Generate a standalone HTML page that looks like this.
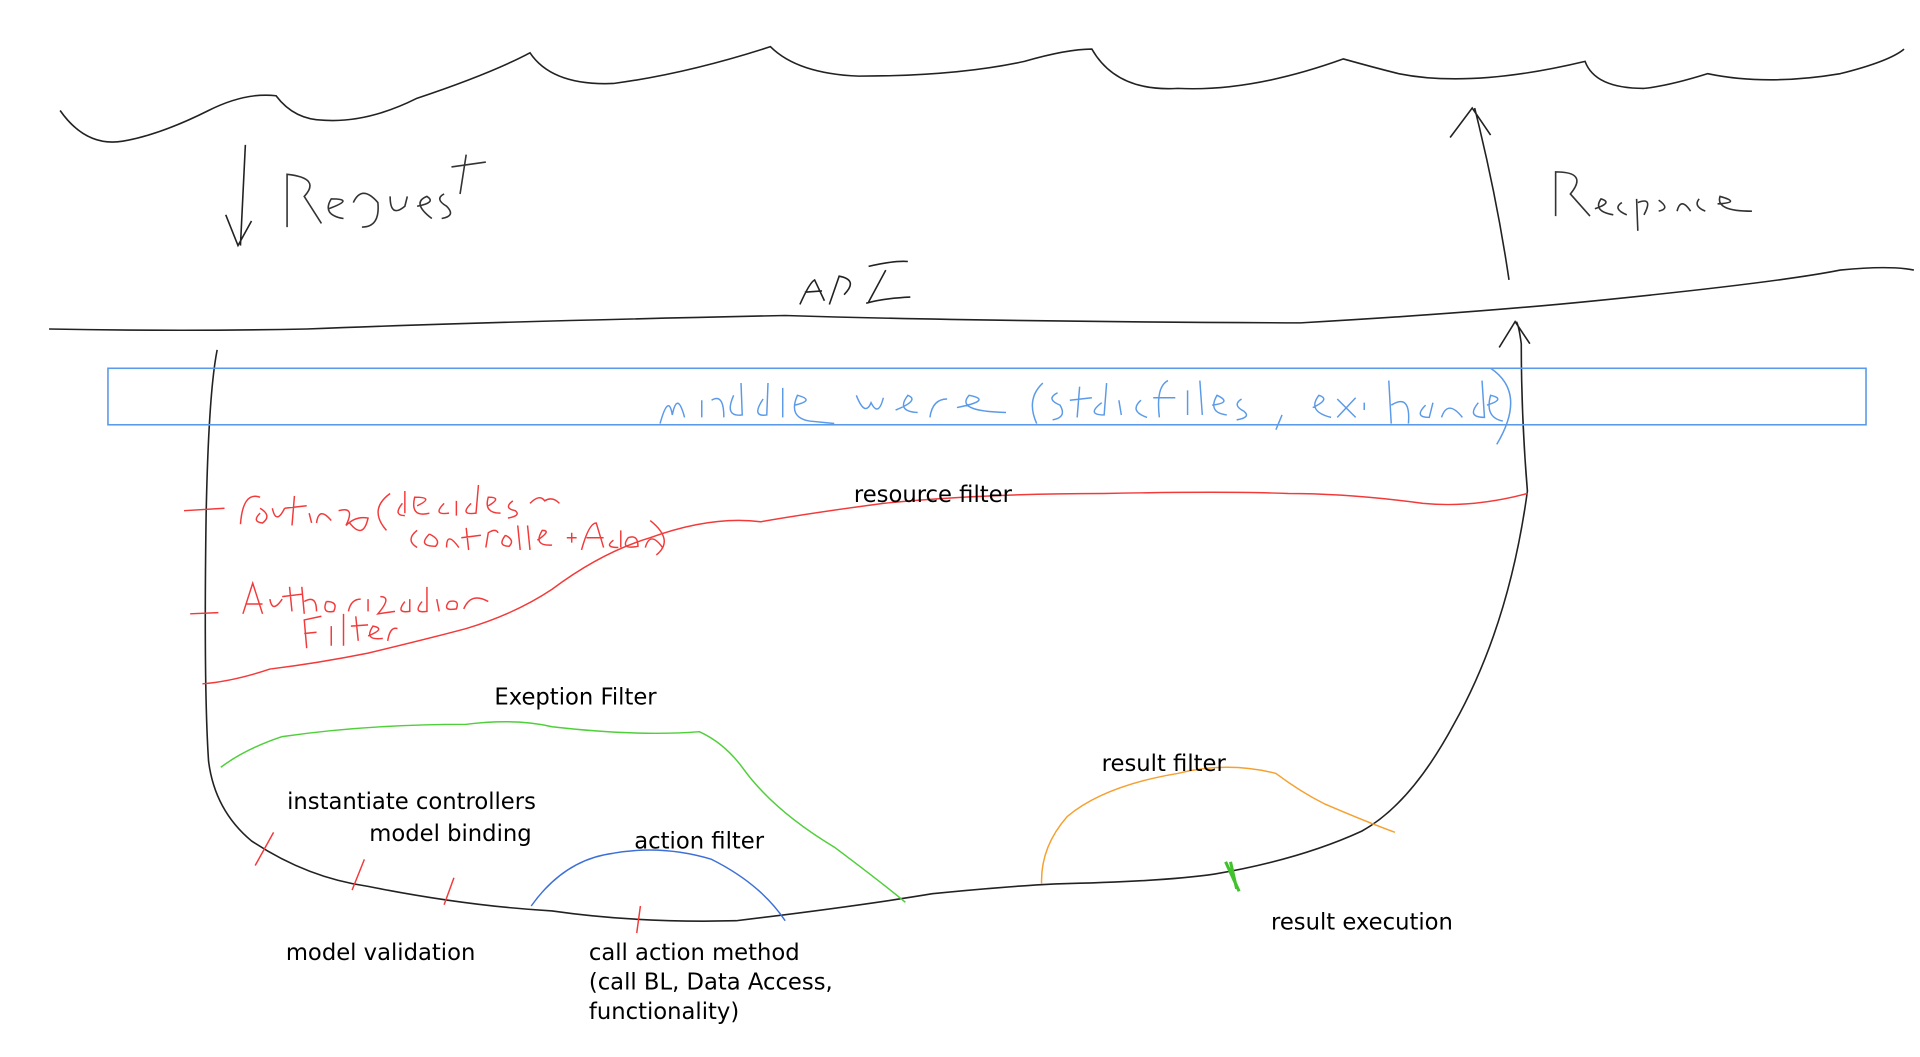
<!DOCTYPE html>
<html><head><style>
html,body{margin:0;padding:0;background:#fff;width:1920px;height:1057px;overflow:hidden}
svg{display:block}
text{font-family:"DejaVu Sans","Liberation Sans",sans-serif}
</style></head><body>
<svg width="1920" height="1057" viewBox="0 0 1565 861" preserveAspectRatio="none" xmlns="http://www.w3.org/2000/svg">
<g fill="none" stroke="#222" stroke-width="1.3">
<path d="M49 90 Q70 120 100 115 Q130 110 170 90 Q200 75 225 78 Q240 98 265 98 Q300 100 340 80 Q400 60 432 43 Q450 70 500 68 Q560 60 628 38 Q650 60 700 62 Q780 62 835 50 Q870 40 890 40 Q910 75 960 72 Q1020 75 1095 48 Q1120 55 1140 60 Q1200 72 1292 50 Q1300 72 1340 72 Q1360 70 1392 60 Q1440 70 1500 60 Q1540 50 1552 40"/>
<path d="M40 268 Q150 270 250 268 Q400 262 640 257 Q800 262 1060 263 Q1200 255 1300 245 Q1450 230 1500 220 Q1540 216 1560 220"/>
<path d="M200 118 L196 200 M184 175 L194 200 L205 180"/>
<path d="M1230 228 Q1220 160 1202 88 M1182 112 L1200 88 L1215 110"/>
<path d="M177 285 Q170 320 168 420 Q166 560 170 620 Q175 660 205 685 Q250 715 300 722 Q380 738 450 742 Q520 752 600 750 Q700 738 760 728 Q820 722 860 720 Q950 718 990 712 Q1060 700 1110 677 Q1150 655 1185 590 Q1230 510 1245 400 Q1240 340 1240 280 Q1238 265 1236 262 M1222 283 L1235 262 L1247 280"/>
<path d="M652 248 Q660 230 664 228 L672 245 M656 238 L670 237 M676 248 L684 225 Q700 228 688 240 M708 246 L722 220 M708 217 Q730 212 740 213 M706 247 Q720 243 742 242"/>
</g>
<g fill="none" stroke="#333" stroke-width="1.3">
<path d="M234 185 L234 142 Q262 145 248 160 L262 182 M268 170 Q290 162 270 162 Q262 175 280 178 M288 165 Q295 150 308 165 Q310 185 295 185 M318 160 Q318 178 330 168 L332 160 M340 168 Q356 165 348 160 Q335 165 352 178 M362 158 Q354 162 364 168 Q372 176 360 178 M380 126 L375 158 M368 136 L396 132"/>
<path d="M1268 176 L1268 140 Q1295 140 1280 158 L1296 176 M1300 170 Q1315 165 1305 162 Q1298 172 1315 175 M1322 165 Q1314 170 1326 175 M1334 162 L1335 188 M1335 165 Q1348 160 1340 175 M1352 163 Q1362 170 1352 172 M1367 172 Q1370 160 1378 172 M1385 162 Q1380 168 1390 172 M1400 166 Q1420 165 1402 160 Q1398 172 1428 172"/>
</g>
<rect x="88" y="300" width="1433" height="46" fill="none" stroke="#5b9ae8" stroke-width="1.3"/>
<g fill="none" stroke="#5b9ae8" stroke-width="1.2">
<path d="M538 345 Q545 320 548 338 Q552 318 558 340 M572 326 L572 340 M580 326 Q590 320 590 340 M598 322 Q590 340 605 338 L604 312 M622 325 Q612 340 625 338 L626 312 M638 316 L638 340 M648 330 Q665 326 650 322 Q642 340 660 343 L680 345 M698 322 Q705 340 710 328 Q716 340 720 324 M730 334 Q750 326 740 322 Q730 335 748 336 M758 340 Q760 325 772 325 M780 332 Q810 326 790 322 Q778 335 820 336 M850 312 Q836 325 845 345 M862 320 Q852 325 864 330 Q870 340 858 342 M880 315 L878 340 M872 326 L890 324 M898 328 Q885 338 900 338 L902 312 M912 326 L914 338 M930 326 Q920 335 935 340 M952 310 Q942 315 945 340 M940 324 L958 324 M968 318 L968 338 M978 310 L980 338 M988 330 Q1005 328 992 322 Q984 336 1000 338 M1012 325 Q1004 330 1014 335 Q1020 340 1008 342 M1045 338 L1040 350 M1070 332 Q1085 325 1075 322 Q1065 335 1085 340 M1090 325 L1105 340 M1105 324 L1090 340 M1112 328 L1112 334 M1132 310 L1134 345 M1134 330 Q1150 320 1148 345 M1162 330 Q1152 340 1165 340 L1168 328 M1175 340 Q1180 325 1192 340 M1205 328 Q1195 340 1210 340 L1208 310 M1212 330 Q1228 325 1215 322 Q1210 340 1225 343 M1215 300 Q1245 320 1220 362"/>
</g>
<g fill="none" stroke="#f23a3a" stroke-width="1.2">
<path d="M165 557 Q190 555 220 545 Q260 540 300 532 Q350 520 380 512 Q420 500 450 480 Q490 450 530 438 Q580 420 620 425 Q660 418 720 410 Q800 402 900 402 Q1000 400 1050 402 Q1100 402 1160 410 Q1200 414 1245 402"/>
<path d="M150 416 L183 414 M155 500 L178 499"/>
<path d="M196 427 Q198 400 212 405 M212 418 Q205 425 214 426 Q222 420 212 414 M222 414 Q225 428 232 414 M240 404 L238 428 M232 414 L250 412 M252 418 L254 426 M258 426 Q260 412 270 424 M276 416 Q290 412 282 428 Q290 420 300 422 Q296 440 285 426 M318 402 Q300 415 315 432 M328 410 Q320 420 330 420 M330 418 L330 400 M340 412 Q355 405 338 405 Q334 422 350 418 M362 410 Q352 420 366 418 M372 408 L372 420 M384 410 Q374 420 388 418 L390 395 M398 412 Q410 405 398 405 Q394 418 408 418 M418 408 Q410 414 420 416 Q425 420 414 422 M432 410 Q440 402 444 408 Q450 404 456 410"/>
<path d="M340 432 Q330 440 340 446 M350 435 Q340 445 355 445 Q360 440 350 435 M364 446 Q364 432 374 446 M380 430 L382 448 M376 438 L392 436 M396 446 L398 434 Q404 430 406 434 M412 436 Q405 445 415 445 Q420 440 412 436 M422 428 L424 448 M430 428 L432 448 M438 440 Q450 432 442 432 Q434 445 450 444 M462 438 L470 438 M466 434 L466 442 M474 448 Q480 426 486 426 L492 446 M478 438 L492 438 M500 440 Q492 446 504 446 M506 432 L506 446 M512 438 Q505 448 520 445 Q520 435 512 438 M526 446 Q530 432 540 446 M530 424 Q550 440 535 452"/>
<path d="M198 500 L206 475 L214 500 M200 492 L214 492 M220 488 Q222 500 230 488 M236 478 L238 498 M230 486 L246 484 M246 478 L248 500 M248 490 Q258 484 258 498 M266 490 Q262 500 272 498 Q276 490 266 490 M284 498 Q286 488 294 488 M300 488 L300 498 M310 486 Q320 486 308 500 L322 498 M330 490 Q322 500 334 498 L334 488 M344 490 Q336 500 348 498 L348 478 M356 488 L358 498 M366 490 Q360 498 372 496 Q375 488 366 490 M378 496 Q384 482 398 490"/>
<path d="M250 528 L248 505 L262 502 M248 516 L258 515 M270 510 L270 526 M280 500 L280 526 M290 502 L292 522 M286 510 L300 509 M300 518 Q315 512 304 510 Q296 522 312 520 M316 522 Q318 510 324 512"/>
<path d="M208 705 L223 678 M287 725 L297 700 M362 737 L370 715 M519 760 L522 738"/>
</g>
<path d="M180 625 Q200 610 230 600 Q300 590 380 590 Q420 585 450 592 Q520 600 570 596 Q590 605 605 625 Q630 660 680 690 Q720 720 738 735" fill="none" stroke="#4fcf3a" stroke-width="1.2"/>
<path d="M999 702 L1010 726 M1003 702 L1008 724" stroke="#3fc22a" stroke-width="2.5"/>
<path d="M433 738 Q460 700 500 695 Q540 688 580 700 Q620 720 640 750" fill="none" stroke="#3d6fd8" stroke-width="1.2"/>
<path d="M849 720 Q848 690 870 665 Q900 640 960 630 Q1000 620 1040 630 Q1060 645 1080 655 Q1115 670 1137 678" fill="none" stroke="#f5a030" stroke-width="1.2"/>
<g fill="#000" font-size="18.5">
<text x="696" y="409">resource filter</text>
<text x="403" y="574">Exeption Filter</text>
<text x="898" y="628">result filter</text>
<text x="234" y="659">instantiate controllers</text>
<text x="301" y="685">model binding</text>
<text x="517" y="691">action filter</text>
<text x="233" y="782">model validation</text>
<text x="480" y="782">call action method</text>
<text x="480" y="806">(call BL, Data Access,</text>
<text x="480" y="830">functionality)</text>
<text x="1036" y="757">result execution</text>
</g>
</svg>
</body></html>
